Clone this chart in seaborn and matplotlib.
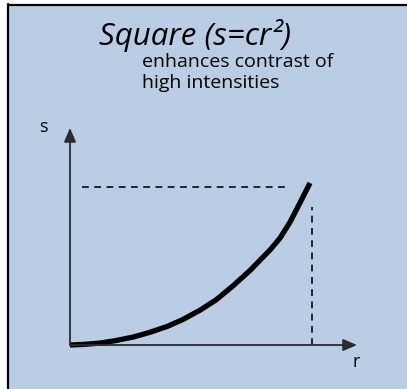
import matplotlib
matplotlib.use("Agg")
import matplotlib.pyplot as plt
from matplotlib.patches import Rectangle
import numpy as np
import pandas as pd
import seaborn as sns

# Power-law (square) intensity transform: input level r vs. output level s
r_vals = [0.0, 0.06, 0.125, 0.19, 0.263, 0.33, 0.404, 0.47, 0.542, 0.61, 0.679, 0.75, 0.833, 0.875, 0.917, 0.958, 1.0]
s_vals = [0.0, 0.004, 0.012, 0.027, 0.049, 0.077, 0.114, 0.157, 0.215, 0.28, 0.365, 0.46, 0.586, 0.66, 0.759, 0.877, 1.0]

# Guide lines marking the top of the curve
s_top = 0.975
r_right = 1.008
s_guide_top = 0.85

title_text = "Square (s=cr\u00b2)"
subtitle_lines = ["enhances contrast of", "high intensities"]
x_label = "r"
y_label = "s"

W, H = 407, 389
BG = "#b9cde4"
INK = "#1c2636"

sns.set_theme(style="white")
plt.rcParams["font.family"] = ["Open Sans", "DejaVu Sans"]

fig = plt.figure(figsize=(W / 100, H / 100), dpi=100)
fig.patch.set_facecolor("white")

# Slide panel with a dark frame on the top and left edges
fig.patches.append(Rectangle((8 / W, 0), 1 - 8 / W, 1 - 5 / H, transform=fig.transFigure,
                             facecolor=BG, edgecolor="none", zorder=-5))
fig.add_artist(plt.Line2D([7.5 / W, 7.5 / W], [0, 1 - 4 / H], transform=fig.transFigure,
                          color="black", lw=1.6, zorder=-4))
fig.add_artist(plt.Line2D([7.5 / W, 1], [1 - 4.5 / H, 1 - 4.5 / H], transform=fig.transFigure,
                          color="black", lw=1.6, zorder=-4))

ax = fig.add_axes([0, 0, 1, 1])
ax.set_facecolor("none")
ax.set_axis_off()
# r spans 70..310 px horizontally, s spans 345..183 px vertically (from top)
ax.set_xlim(-70 / 240, (W - 70) / 240)
ax.set_ylim(-(H - 345) / 162, 345 / 162)

df = pd.DataFrame({"r": r_vals, "s": s_vals})

# Axes with arrowheads
arrow = dict(arrowstyle="-|>,head_length=0.7,head_width=0.3", color="#2b2b2b", lw=1.3,
             shrinkA=0, shrinkB=0)
ax.annotate("", xy=(1.196, 0), xytext=(0, 0), arrowprops=arrow)
ax.annotate("", xy=(0, 1.34), xytext=(0, 0), arrowprops=arrow)

# Dashed guides
dash = dict(color=INK, lw=1.4, linestyle=(0, (3.5, 2.8)))
ax.plot([0.05, 0.91], [s_top, s_top], **dash)
ax.plot([r_right, r_right], [0, s_guide_top], **dash)

# Transform curve
sns.lineplot(data=df, x="r", y="s", ax=ax, color="black", linewidth=3.8, sort=False,
             estimator=None, solid_capstyle="butt", solid_joinstyle="round")

ax.text(1.175, -0.105, x_label, fontsize=13, color="black", ha="left", va="center")
ax.text(-0.11, 1.346, y_label, fontsize=13, color="black", ha="center", va="center")

fig.text(195 / W, 1 - 35 / H, title_text, fontsize=22.5, style="italic", ha="center",
         va="center", color="black")
fig.text(142 / W, 1 - 62 / H, subtitle_lines[0], fontsize=14, ha="left", va="center",
         color="black")
fig.text(142 / W, 1 - 83 / H, subtitle_lines[1], fontsize=14, ha="left", va="center",
         color="black")

fig.savefig("out.png", dpi=100, facecolor="white")
